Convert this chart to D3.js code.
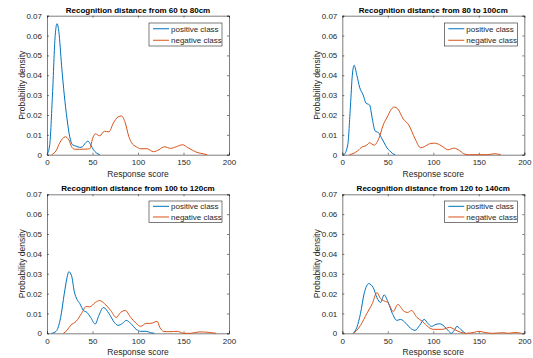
<!DOCTYPE html>
<html>
<head>
<meta charset="utf-8">
<script src="https://cdn.jsdelivr.net/npm/d3@7"></script>
<style>
  body { margin: 0; background: #fff; }
  svg { display: block; font-family: "Liberation Sans", Arial, sans-serif; }
</style>
</head>
<body>
<svg id="chart" width="533" height="358"></svg>
<script>
// panel titles
const titles = [
  "Recognition distance from 60 to 80cm",
  "Recognition distance from 80 to 100cm",
  "Recognition distance from 100 to 120cm",
  "Recognition distance from 120 to 140cm"
];
const seriesNames = ["positive class", "negative class"];
const xTicks = [0, 50, 100, 150, 200];
const yTicks = [0, 0.01, 0.02, 0.03, 0.04, 0.05, 0.06, 0.07];

// [response score, probability density]
const pos60 = [[0,0],[3,0.005],[6,0.03],[9,0.06],[11,0.066],[13,0.062],[16,0.045],[19,0.03],[22,0.018],[25,0.009],[28,0.005],[32,0.0043],[36,0.0037],[39,0.004],[42,0.0058],[45,0.0068],[48,0.005],[51,0.0025],[54,0.001],[58,0]];
const neg60 = [[5,0],[10,0.002],[14,0.006],[20,0.009],[24,0.0075],[27,0.004],[30,0.0028],[36,0.0027],[42,0.0028],[47,0.003],[50,0.008],[53,0.0105],[58,0.0095],[63,0.0118],[68,0.0115],[73,0.016],[78,0.019],[82,0.0195],[86,0.016],[90,0.009],[93,0.006],[98,0.004],[103,0.003],[110,0.003],[117,0.0015],[123,0.0025],[129,0.004],[136,0.0032],[142,0.004],[149,0.005],[155,0.0035],[160,0.0022],[166,0.001],[172,0.0004],[176,0]];

const pos80 = [[2,0],[6,0.005],[9,0.025],[11,0.04],[13,0.045],[16,0.04],[19,0.034],[23,0.03],[26,0.026],[30,0.025],[33,0.018],[36,0.012],[40,0.011],[43,0.0085],[46,0.006],[49,0.0035],[52,0.002],[55,0.0007],[58,0]];
const neg80 = [[8,0],[13,0.0008],[17,0.002],[22,0.004],[26,0.0045],[30,0.006],[35,0.0048],[40,0.008],[45,0.015],[50,0.0195],[54,0.023],[57,0.024],[61,0.023],[67,0.018],[73,0.015],[80,0.008],[86,0.0035],[90,0.004],[96,0.0055],[101,0.0058],[107,0.005],[112,0.0035],[116,0.0025],[123,0.0033],[129,0.002],[135,0.0002],[140,0],[160,0],[167,0.0005],[174,0]];

const pos100 = [[5,0],[10,0.001],[15,0.008],[19,0.02],[22,0.028],[24,0.031],[27,0.029],[30,0.021],[33,0.017],[36,0.015],[40,0.0115],[44,0.0105],[48,0.008],[53,0.0047],[57,0.009],[62,0.013],[68,0.01],[74,0.0055],[78,0.004],[83,0.005],[87,0.0065],[92,0.005],[98,0.002],[103,0.001],[109,0.001],[114,0.0003],[118,0]];
const neg100 = [[18,0],[22,0.0015],[26,0.004],[32,0.006],[38,0.01],[43,0.0135],[47,0.0133],[53,0.0155],[58,0.0165],[63,0.015],[70,0.0115],[76,0.008],[81,0.0105],[86,0.0115],[92,0.008],[98,0.005],[103,0.0035],[109,0.005],[114,0.005],[121,0.006],[124,0.003],[128,0.001],[135,0.0008],[143,0.001],[150,0],[158,0],[167,0.0007],[177,0.0005],[186,0]];

const pos120 = [[12,0],[16,0.003],[20,0.01],[24,0.02],[29,0.025],[34,0.023],[38,0.018],[42,0.0155],[46,0.0194],[50,0.016],[55,0.01],[60,0.0065],[64,0.007],[70,0.005],[75,0.0025],[80,0.0015],[85,0.004],[90,0.007],[94,0.005],[98,0.0035],[103,0.0045],[107,0.0048],[112,0.0035],[117,0.001],[120,0],[123,0.0015],[126,0.0035],[130,0.002],[135,0]];
const neg120 = [[12,0],[16,0.0015],[20,0.004],[27,0.01],[33,0.015],[38,0.0205],[42,0.0175],[45,0.0165],[50,0.0155],[56,0.011],[61,0.0145],[68,0.011],[72,0.0105],[76,0.0115],[82,0.008],[88,0.006],[95,0.003],[100,0.002],[110,0.002],[118,0.003],[123,0.002],[130,0.0005],[136,0],[145,0.0005],[150,0.001],[158,0.0003],[165,0],[177,0.0003],[183,0],[190,0.0004],[197,0]];

const panelData = [[pos60, neg60], [pos80, neg80], [pos100, neg100], [pos120, neg120]];
const colors = ["#0072BD", "#D95319"];

const svg = d3.select("#chart");
const lefts = [47, 342.3];
const tops = [15.7, 194.3];
const w = 182, h = 139;

panelData.forEach((pair, i) => {
  const col = i % 2, row = Math.floor(i / 2);
  const g = svg.append("g")
    .attr("transform", `translate(${lefts[col]},${tops[row]})`);

  const x = d3.scaleLinear().domain([0, 200]).range([0, w]);
  const y = d3.scaleLinear().domain([0, 0.07]).range([h, 0]);

  // axes, MATLAB style: inward ticks on all four sides
  const fmt = d => d === 0 ? "0" : d3.format(".2f")(d);
  const styleAxis = (a) => {
    a.select(".domain").attr("stroke", "#262626").attr("stroke-width", 0.6);
    a.selectAll(".tick line").attr("stroke", "#262626").attr("stroke-width", 0.6);
    a.selectAll("text").attr("fill", "#262626").style("font-size", "8px");
  };

  g.append("g").attr("transform", `translate(0,${h})`)
    .call(d3.axisBottom(x).tickValues(xTicks).tickSize(-2).tickPadding(5))
    .call(styleAxis);
  g.append("g")
    .call(d3.axisLeft(y).tickValues(yTicks).tickFormat(fmt).tickSize(-2).tickPadding(5))
    .call(styleAxis);
  g.append("g")
    .call(d3.axisTop(x).tickValues(xTicks).tickSize(-2).tickFormat(""))
    .call(styleAxis);
  g.append("g").attr("transform", `translate(${w},0)`)
    .call(d3.axisRight(y).tickValues(yTicks).tickSize(-2).tickFormat(""))
    .call(styleAxis);

  const line = d3.line()
    .x(d => x(d[0]))
    .y(d => y(d[1]))
    .curve(d3.curveMonotoneX);

  pair.forEach((s, k) => {
    g.append("path")
      .datum(s)
      .attr("fill", "none")
      .attr("stroke", colors[k])
      .attr("stroke-width", 1)
      .attr("d", line);
  });

  // title and axis labels
  g.append("text")
    .attr("x", w / 2).attr("y", -3)
    .attr("text-anchor", "middle")
    .style("font-size", "8px").style("font-weight", "bold")
    .attr("fill", "#000")
    .text(titles[i]);

  g.append("text")
    .attr("x", w / 2).attr("y", h + 22)
    .attr("text-anchor", "middle")
    .style("font-size", "8.5px")
    .attr("fill", "#262626")
    .text("Response score");

  g.append("text")
    .attr("transform", `translate(-22,${h / 2}) rotate(-90)`)
    .attr("text-anchor", "middle")
    .style("font-size", "8.5px")
    .attr("fill", "#262626")
    .text("Probability density");

  // legend
  const lg = g.append("g").attr("transform", `translate(${w - 80},${row === 0 ? 7.3 : 6.7})`);
  const lh = row === 0 ? 23 : 21.3;
  lg.append("rect")
    .attr("width", 73).attr("height", lh)
    .attr("fill", "#fff").attr("stroke", "#262626").attr("stroke-width", 0.6);
  seriesNames.forEach((name, k) => {
    const yy = lh / 4 + k * lh / 2;
    lg.append("line")
      .attr("x1", 4).attr("x2", 20).attr("y1", yy).attr("y2", yy)
      .attr("stroke", colors[k]).attr("stroke-width", 1);
    lg.append("text")
      .attr("x", 22).attr("y", yy + 2.8)
      .style("font-size", "8px").attr("fill", "#262626")
      .text(name);
  });
});
</script>
</body>
</html>
